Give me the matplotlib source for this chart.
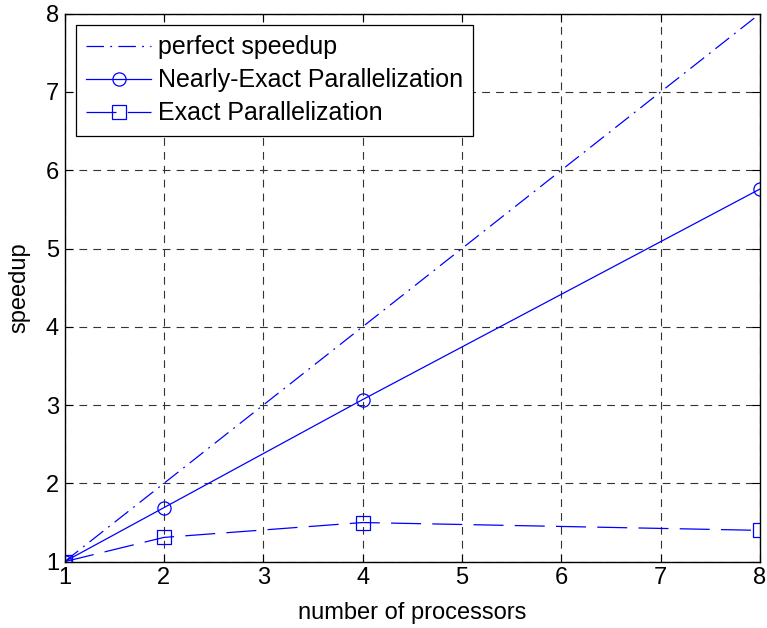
import matplotlib
matplotlib.use("Agg")
import matplotlib.pyplot as plt

plt.rcParams['font.family'] = ['Liberation Sans', 'DejaVu Sans']

processors = [1, 2, 4, 8]
perfect = [1, 2, 4, 8]
nearly_exact = [1, 1.69, 3.07, 5.76]
exact = [1, 1.31, 1.5, 1.4]
xticks = [1, 2, 3, 4, 5, 6, 7, 8]
yticks = [1, 2, 3, 4, 5, 6, 7, 8]

fig = plt.figure(figsize=(7.67, 6.28), dpi=100)
ax = fig.add_axes([0.0841, 0.1056, 0.9068, 0.8727])

blue = (0, 0, 1)
lw = 0.9
ax.plot(processors, perfect, color=blue, lw=lw, linestyle=(0, (14, 5, 1.5, 5)), label='perfect speedup')
ax.plot(processors, nearly_exact, color=blue, lw=lw, marker='o', ms=9.5, mfc='none', mew=0.9,
        label='Nearly-Exact Parallelization')
ax.plot(processors, exact, color=blue, lw=lw, linestyle=(0, (24, 9)), marker='s', ms=9.5, mfc='none', mew=0.9,
        label='Exact Parallelization')

ax.set_xlim(1, 8)
ax.set_ylim(1, 8)
ax.set_xticks(xticks)
ax.set_yticks(yticks)
ax.tick_params(direction='in', top=True, right=True, labelsize=17, length=6, pad=4, width=0.8)
ax.grid(True, color='#333333', linestyle=(0, (7, 5.5)), lw=0.8)
for s in ax.spines.values():
    s.set_linewidth(1.0)
ax.set_xlabel('number of processors', fontsize=17, labelpad=9)
ax.set_ylabel('speedup', fontsize=17, labelpad=11)

leg = ax.legend(loc='upper left', prop={'size': 18}, fancybox=False, framealpha=1, edgecolor='black',
                borderaxespad=0.45, handlelength=2.6, handletextpad=0.25, labelspacing=0.36,
                borderpad=0.42)
leg.get_frame().set_linewidth(0.9)

fig.savefig('out.png', dpi=100)
